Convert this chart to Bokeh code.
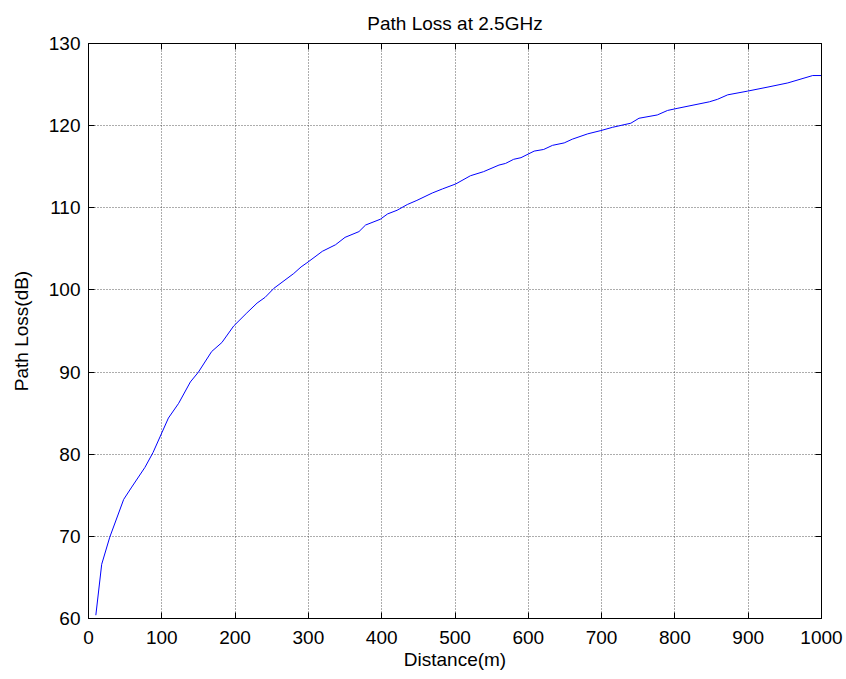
from bokeh.plotting import figure
from bokeh.models import LinearAxis, FixedTicker, Range1d
from bokeh.embed import file_html
from bokeh.resources import INLINE

# Path loss vs distance at 2.5 GHz
distance_m = [10, 18, 29, 48, 59, 77, 88, 100, 109, 123, 139, 150, 168, 182, 198,
              216, 230, 241, 253, 280, 290, 298, 319, 337, 350, 369, 378, 398, 408,
              421, 435, 448, 469, 483, 501, 521, 539, 560, 569, 580, 590, 608, 621,
              633, 649, 660, 681, 699, 715, 740, 751, 776, 790, 803, 847, 858, 872,
              899, 927, 954, 988, 1000]
path_loss_db = [60.4, 66.6, 69.9, 74.5, 76.0, 78.4, 80.2, 82.6, 84.4, 86.2, 88.8,
                90.0, 92.5, 93.6, 95.6, 97.2, 98.4, 99.1, 100.2, 102.0, 102.8, 103.3,
                104.7, 105.5, 106.4, 107.1, 107.9, 108.6, 109.25, 109.7, 110.4, 110.9,
                111.8, 112.3, 112.9, 113.9, 114.4, 115.2, 115.4, 115.9, 116.1, 116.9,
                117.1, 117.6, 117.9, 118.35, 119.0, 119.4, 119.8, 120.3, 120.9, 121.3,
                121.85, 122.1, 122.9, 123.2, 123.75, 124.2, 124.7, 125.2, 126.1, 126.1]

x_ticks = [0, 100, 200, 300, 400, 500, 600, 700, 800, 900, 1000]
y_ticks = [60, 70, 80, 90, 100, 110, 120, 130]

FONT = "Liberation Sans"

p = figure(width=846, height=679, output_backend="svg", toolbar_location=None,
           x_range=Range1d(0, 1000), y_range=Range1d(60, 130),
           title="Path Loss at 2.5GHz",
           min_border_left=88, min_border_right=25, min_border_top=42,
           min_border_bottom=61)

p.title.align = "center"
p.title.text_font = FONT
p.title.text_font_size = "19px"
p.title.text_font_style = "normal"
p.title.text_color = "black"
p.title.standoff = 20

p.outline_line_color = "black"
p.outline_line_width = 1
p.background_fill_color = "white"
p.border_fill_color = "white"

for ax in (p.xaxis[0], p.yaxis[0]):
    ax.major_tick_in = 6
    ax.major_tick_out = 0
    ax.minor_tick_line_color = None
    ax.axis_line_color = "black"
    ax.major_tick_line_color = "black"
    ax.major_label_text_font = FONT
    ax.major_label_text_font_size = "19px"
    ax.major_label_text_color = "black"
    ax.axis_label_text_font = FONT
    ax.axis_label_text_font_size = "19px"
    ax.axis_label_text_font_style = "normal"
    ax.axis_label_text_color = "black"

p.xaxis[0].ticker = FixedTicker(ticks=x_ticks)
p.yaxis[0].ticker = FixedTicker(ticks=y_ticks)
p.xaxis[0].axis_label = "Distance(m)"
p.yaxis[0].axis_label = "Path Loss(dB)"
p.xaxis[0].major_label_standoff = 12
p.yaxis[0].major_label_standoff = 8
p.xaxis[0].axis_label_standoff = 2
p.yaxis[0].axis_label_standoff = 14

# box ticks on the opposite sides, without labels
top_ax = LinearAxis(ticker=FixedTicker(ticks=x_ticks),
                    major_label_overrides={t: "" for t in x_ticks})
right_ax = LinearAxis(ticker=FixedTicker(ticks=y_ticks),
                      major_label_overrides={t: "" for t in y_ticks})
for ax in (top_ax, right_ax):
    ax.major_tick_in = 6
    ax.major_tick_out = 0
    ax.minor_tick_line_color = None
    ax.major_label_standoff = 0
    ax.axis_line_color = "black"
p.add_layout(top_ax, "above")
p.add_layout(right_ax, "right")

p.xgrid.ticker = FixedTicker(ticks=x_ticks)
p.ygrid.ticker = FixedTicker(ticks=y_ticks)
p.grid.grid_line_color = "#333333"
p.grid.grid_line_dash = "1 2"
p.grid.grid_line_alpha = 0.8

p.line(distance_m, path_loss_db, line_color="#0000FF", line_width=1)

open("out.html", "w").write(file_html(p, INLINE))
